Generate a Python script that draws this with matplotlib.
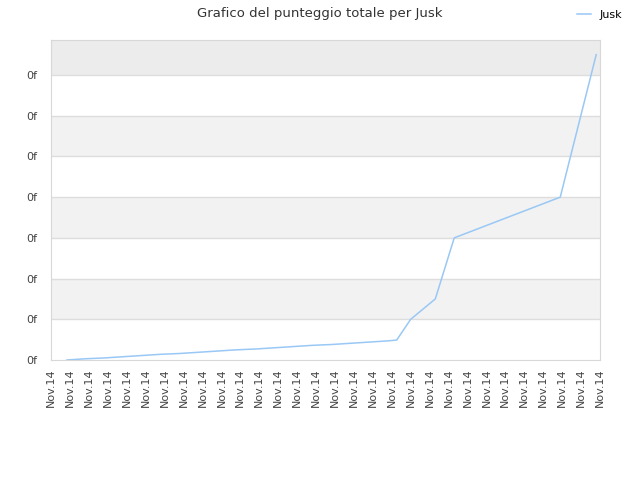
import matplotlib.pyplot as plt

# Daten
x_pos = [0.84, 1.8, 2.8, 3.8, 4.8, 5.8, 6.8, 7.8, 8.8, 9.8, 10.8, 11.8, 12.8,
         13.8, 14.8, 15.8, 16.8, 17.8, 18.26, 19.0, 20.3, 21.3, 26.9, 28.8]
punteggio = [0, 0.03, 0.05, 0.08, 0.11, 0.14, 0.16, 0.19, 0.22, 0.25, 0.27,
             0.30, 0.33, 0.36, 0.38, 0.41, 0.44, 0.47, 0.49, 1.0, 1.5, 3.0,
             4.0, 7.5]
x_ticks = list(range(30))
x_labels = ['Nov.14'] * 30
y_ticks = list(range(8))
y_labels = ['0f'] * 8

fig = plt.figure(figsize=(6.4, 4.8), dpi=100)
ax = fig.add_axes([51 / 640, 120 / 480, 549 / 640, 320 / 480])

ymax = 7.86
# abwechselnde Hintergrundbänder
for i in range(8):
    top = min(i + 1, ymax)
    if i % 2 == 1:
        col = '#ececec' if i == 7 else '#f2f2f2'
        ax.axhspan(i, top, color=col, zorder=0, lw=0)
for y in y_ticks[1:]:
    ax.axhline(y, color='#dddddd', lw=1, zorder=1)

ax.plot(x_pos, punteggio, color='#99c8f5', lw=1.1, label='Jusk', zorder=3)

ax.set_xlim(0, 29)
ax.set_ylim(0, ymax)
ax.set_xticks(x_ticks)
ax.set_xticklabels(x_labels, rotation=90, fontsize=8, color='#444444')
ax.set_yticks(y_ticks)
ax.set_yticklabels(y_labels, fontsize=8, color='#444444')
ax.tick_params(axis='y', length=0, pad=10)
ax.tick_params(axis='x', length=0, pad=6)
for s in ax.spines.values():
    s.set_color('#d8d8d8')

fig.suptitle('Grafico del punteggio totale per Jusk', fontsize=9.5,
             color='#333333', y=0.985)
fig.legend(loc='upper right', bbox_to_anchor=(0.988, 1.0), frameon=False,
           fontsize=8, handlelength=1.2)

fig.savefig('out.png', dpi=100)
